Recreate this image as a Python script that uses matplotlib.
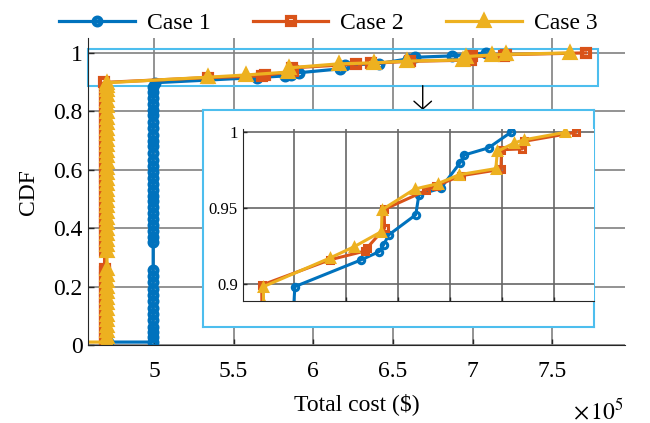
import numpy as np
import matplotlib.pyplot as plt
from matplotlib.patches import Rectangle
from matplotlib.ticker import FuncFormatter

# CDF of total cost for three cases, with a zoomed inset of the upper tail

plt.rcParams['font.family'] = ['Liberation Serif', 'DejaVu Serif']
plt.rcParams['mathtext.fontset'] = 'stix'

labels = ['Case 1', 'Case 2', 'Case 3']
colors = ['#0072BD', '#D95319', '#EDB120']
markers = ['o', 's', '^']

# lowest sample of each case
low_cost = [4.71e5, None, 4.55e5]
low_cdf = [0.011, None, 0.011]

# the dense block of samples at (almost) one cost
bar_cost = [4.995e5, 4.69e5, 4.705e5]
c1_bar_cdf = [0.011, 0.028, 0.046, 0.064, 0.085, 0.106, 0.128, 0.15, 0.172, 0.194,
              0.216, 0.238, 0.259, 0.352, 0.372, 0.392, 0.412, 0.432, 0.452, 0.472,
              0.492, 0.512, 0.532, 0.552, 0.572, 0.592, 0.612, 0.635, 0.658, 0.68,
              0.70, 0.72, 0.742, 0.764, 0.786, 0.806, 0.826, 0.846, 0.866, 0.884]
c2_bar_cdf = [0.011, 0.03, 0.05, 0.07, 0.09, 0.11, 0.13, 0.15, 0.17, 0.19,
              0.21, 0.23, 0.25, 0.262, 0.323, 0.34, 0.36, 0.38, 0.40, 0.42,
              0.44, 0.46, 0.48, 0.50, 0.52, 0.54, 0.56, 0.58, 0.60, 0.62,
              0.64, 0.66, 0.68, 0.70, 0.72, 0.74, 0.76, 0.78, 0.80, 0.82,
              0.84, 0.86, 0.88]
c3_bar_cdf = [0.011, 0.029, 0.048, 0.067, 0.086, 0.105, 0.124, 0.143, 0.162, 0.181,
              0.20, 0.22, 0.24, 0.26, 0.324, 0.342, 0.361, 0.38, 0.399, 0.418,
              0.437, 0.456, 0.475, 0.494, 0.513, 0.532, 0.551, 0.57, 0.589, 0.608,
              0.627, 0.646, 0.665, 0.684, 0.703, 0.722, 0.741, 0.76, 0.779, 0.798,
              0.817, 0.836, 0.855, 0.872, 0.886]

# upper tail
c1_top_cost = [5.006e5, 5.645e5, 5.82e5, 5.86e5, 5.91e5, 6.17e5, 6.20e5, 6.41e5,
               6.595e5, 6.637e5, 6.87e5, 7.085e5]
c1_top_cdf = [0.898, 0.9157, 0.9212, 0.9256, 0.9322, 0.9455, 0.9587, 0.963,
              0.9797, 0.985, 0.9897, 1.0]
c2_top_cost = [4.687e5, 5.342e5, 5.68e5, 5.70e5, 5.87e5, 5.865e5, 6.27e5, 6.36e5,
               6.605e5, 6.99e5, 6.995e5, 7.196e5, 7.21e5, 7.71e5]
c2_top_cdf = [0.899, 0.9157, 0.9215, 0.9235, 0.9366, 0.949, 0.9616, 0.9645,
              0.9713, 0.9755, 0.9885, 0.989, 0.994, 1.0]
c3_top_cost = [4.703e5, 5.34e5, 5.58e5, 5.84e5, 5.845e5, 6.16e5, 6.38e5, 6.589e5,
               6.94e5, 6.956e5, 7.12e5, 7.21e5, 7.61e5]
c3_top_cdf = [0.898, 0.9168, 0.9245, 0.9344, 0.9488, 0.9625, 0.966, 0.972,
              0.976, 0.9874, 0.993, 0.995, 1.0]

bar_cdfs = [c1_bar_cdf, c2_bar_cdf, c3_bar_cdf]
top_costs = [c1_top_cost, c2_top_cost, c3_top_cost]
top_cdfs = [c1_top_cdf, c2_top_cdf, c3_top_cdf]

series = []
for i in range(3):
    x, y = [], []
    if low_cost[i] is not None:
        x.append(low_cost[i])
        y.append(low_cdf[i])
    x += [bar_cost[i]] * len(bar_cdfs[i]) + top_costs[i]
    y += bar_cdfs[i] + top_cdfs[i]
    series.append((np.array(x), np.array(y)))

frame_c = '#4DBEEE'
grid_c = '#808080'
fs = 17

fig = plt.figure(figsize=(6.5, 4.23), dpi=100)
ax = fig.add_axes([0.1354, 0.1837, 0.8262, 0.7258])

handles = []
for i, (x, y) in enumerate(series):
    mfc = colors[i] if markers[i] == '^' else 'none'
    ms = 7.5 if markers[i] == '^' else 5.6
    h, = ax.plot(x, y, color=colors[i], lw=2.3, marker=markers[i], ms=ms, mew=3.0,
                 mfc=mfc, label=labels[i])
    handles.append(h)

ax.set_xlim(4.586e5, 7.957e5)
ax.set_ylim(0, 1.05)
ax.set_xticks([5e5, 5.5e5, 6e5, 6.5e5, 7e5, 7.5e5])
ax.set_yticks([0, 0.2, 0.4, 0.6, 0.8, 1])
ax.xaxis.set_major_formatter(FuncFormatter(lambda v, p: '%g' % (v / 1e5)))
ax.yaxis.set_major_formatter(FuncFormatter(lambda v, p: '%g' % v))
ax.grid(True, color=grid_c, lw=1.2)
ax.set_axisbelow(True)
for s in ['top', 'right']:
    ax.spines[s].set_visible(False)
for s in ['left', 'bottom']:
    ax.spines[s].set_color('#262626')
ax.tick_params(direction='in', length=4, width=1, color='#262626', labelsize=fs)
ax.tick_params(axis='x', pad=11)
ax.tick_params(axis='y', pad=4)
ax.set_xlabel('Total cost (\\$)', fontsize=fs, labelpad=8)
ax.set_ylabel('CDF', fontsize=fs, labelpad=10)

# zoom region and arrow
ax.add_patch(Rectangle((4.586e5, 0.888), 7.789e5 - 4.586e5, 1.013 - 0.888,
                       fill=False, ec=frame_c, lw=1.5, zorder=1.5, clip_on=False))
ax.annotate('', xy=(6.687e5, 0.805), xytext=(6.687e5, 0.888),
            arrowprops=dict(arrowstyle='->, head_length=0.4, head_width=0.45',
                            color='k', lw=1, mutation_scale=14, shrinkA=0, shrinkB=0))

fig.text(573 / 650, 4 / 423, r'$\times\,10^5$', fontsize=fs, ha='left', va='baseline')

fig.legend(handles, labels, loc='upper center', bbox_to_anchor=(0.505, 1.02), ncol=3,
           frameon=False, handlelength=3.2, handletextpad=0.5, columnspacing=1.8,
           fontsize=fs)

# inset frame
fax = fig.add_axes([0.3118, 0.2277, 0.602, 0.5123])
fax.set_xticks([])
fax.set_yticks([])
for s in fax.spines.values():
    s.set_color(frame_c)
    s.set_linewidth(1.5)

iax = fig.add_axes([0.3743, 0.2884, 0.5395, 0.406])
for i, (x, y) in enumerate(series):
    mfc = colors[i] if markers[i] == '^' else 'none'
    ms = 6.2 if markers[i] == '^' else 4.6
    iax.plot(x, y, color=colors[i], lw=2.2, marker=markers[i], ms=ms, mew=2.2, mfc=mfc)
iax.set_xlim(4.51e5, 7.885e5)
iax.set_ylim(0.8885, 1.002)
iax.set_xticks([5e5, 5.5e5, 6e5, 6.5e5, 7e5, 7.5e5])
iax.set_xticklabels([])
iax.set_yticks([0.9, 0.95, 1])
iax.set_yticklabels(['0.9', '0.95', '1'])
iax.grid(True, color='#666666', lw=1.2)
iax.set_axisbelow(True)
for s in ['top', 'right']:
    iax.spines[s].set_visible(False)
for s in ['left', 'bottom']:
    iax.spines[s].set_color('#262626')
iax.tick_params(direction='in', length=3, width=1, color='#262626', labelsize=12, pad=4)

fig.savefig('out.png', dpi=100)
